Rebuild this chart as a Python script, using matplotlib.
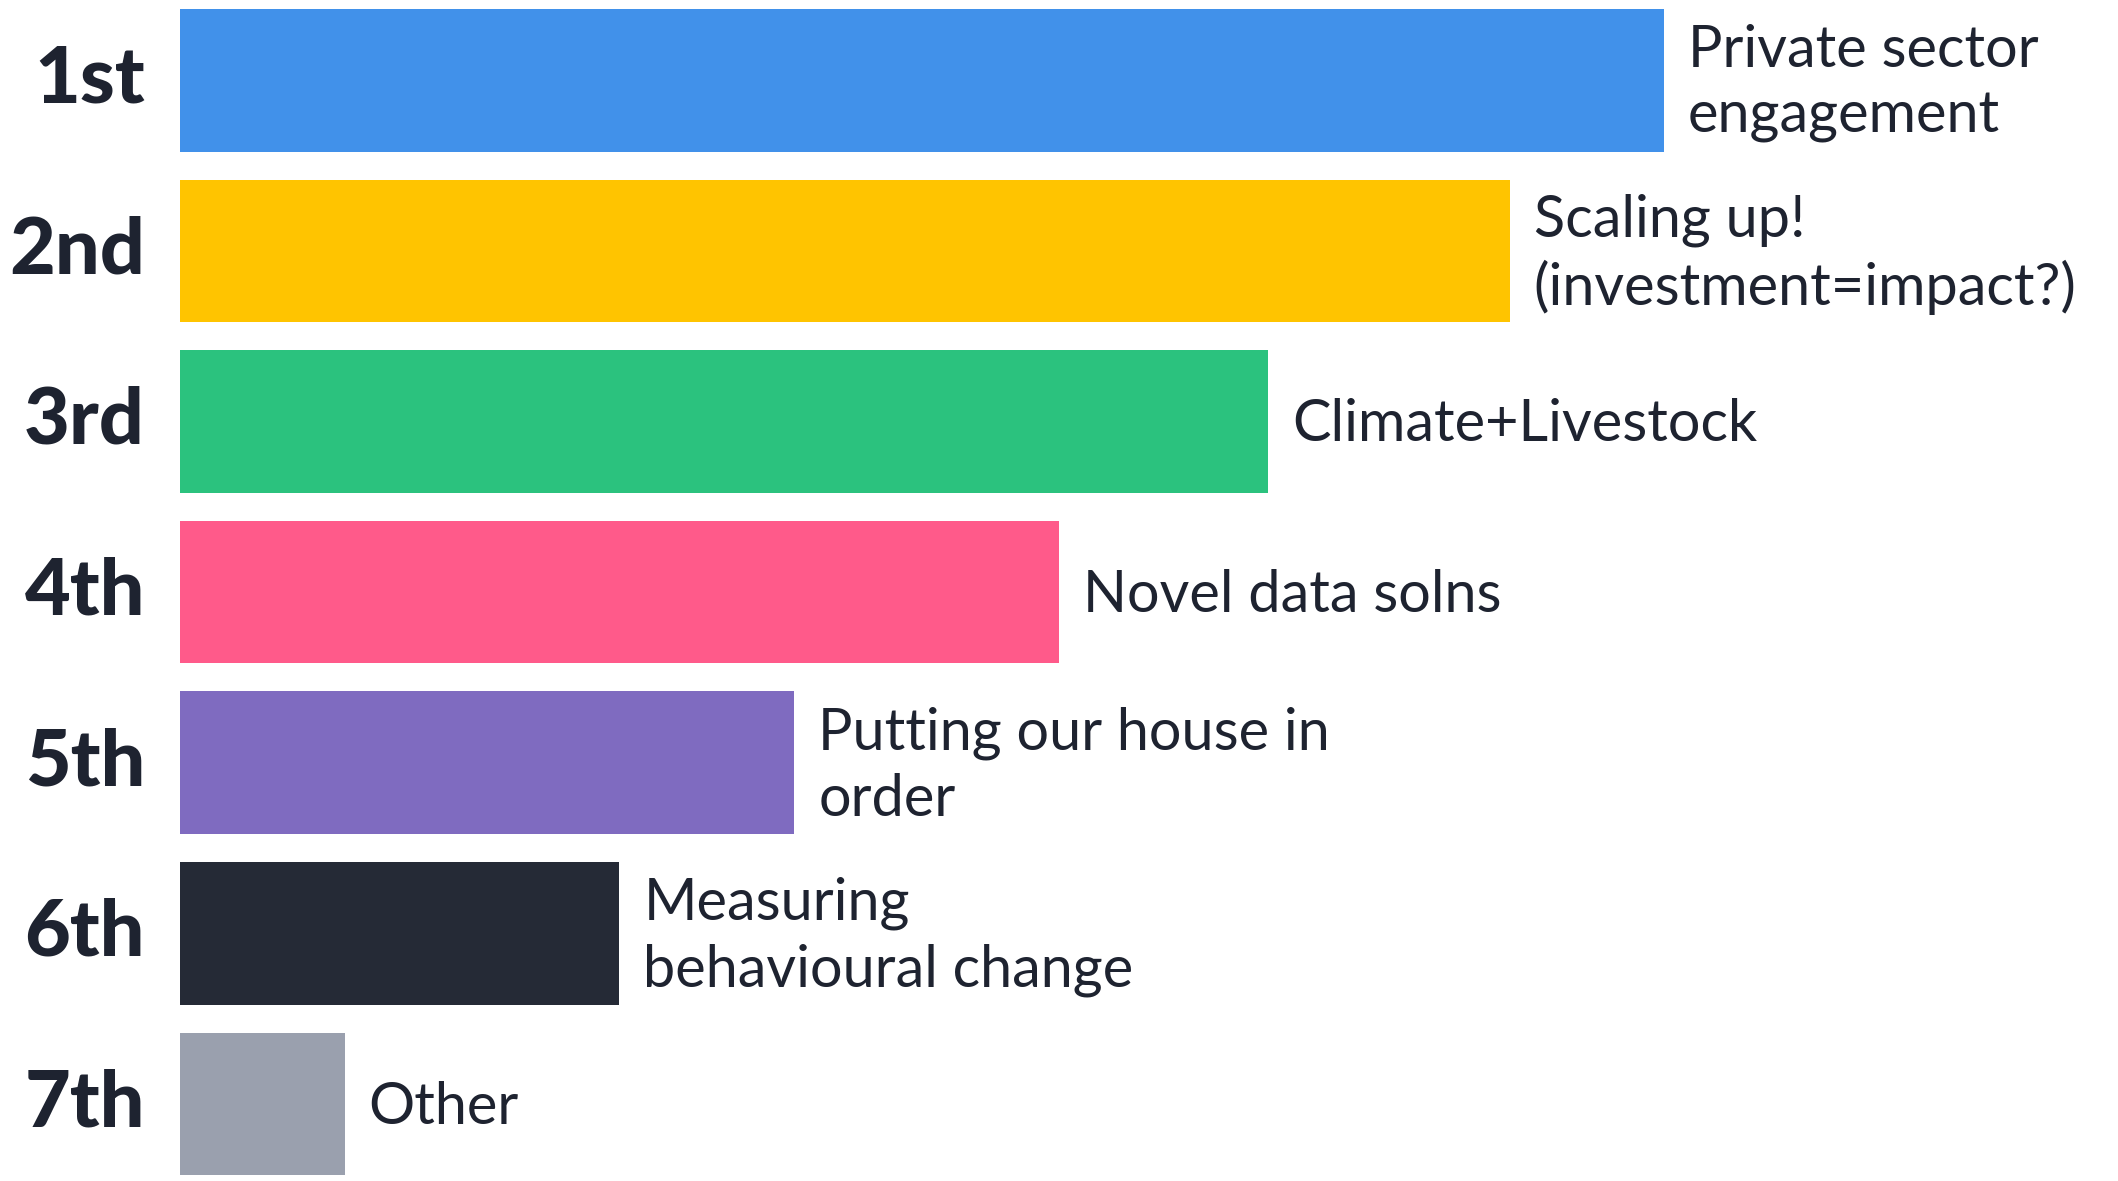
import matplotlib
matplotlib.use("Agg")
import matplotlib.pyplot as plt

ranks = ["1st", "2nd", "3rd", "4th", "5th", "6th", "7th"]
labels = ["Private sector\nengagement",
          "Scaling up!\n(investment=impact?)",
          "Climate+Livestock",
          "Novel data solns",
          "Putting our house in\norder",
          "Measuring\nbehavioural change",
          "Other"]
scores = [100, 89.6, 73.3, 59.2, 41.4, 29.6, 11.1]
colors = ["#4191EA", "#FFC400", "#2BC27E", "#FF5A8A", "#7F6BC0", "#252A36", "#9AA0AE"]

W, H = 2118, 1181
DPI = 100
fig = plt.figure(figsize=(W / DPI, H / DPI), dpi=DPI)
fig.patch.set_facecolor("white")

left_px = 180
px_per_unit = 14.84
ax = fig.add_axes([left_px / W, 0, 1 - left_px / W, 1])
ax.set_xlim(0, (W - left_px) / px_per_unit)
pitch = 170.6
top_off = 80.3 / pitch
ax.set_ylim(6 + (H - 80.3 - 6 * pitch) / pitch, -top_off)
ax.axis("off")

fam = ["Lato", "DejaVu Sans"]
txt_color = "#1E2330"
ypos = list(range(len(ranks)))
ax.barh(ypos, scores, height=0.835, color=colors, left=0)

for y, s, lab, r in zip(ypos, scores, labels, ranks):
    ax.text(s + 24 / px_per_unit, y + 0.02, lab, va="center", ha="left",
            fontsize=41.5, family=fam, color=txt_color, linespacing=1.3)
    ax.text(-35 / px_per_unit, y, r, va="center", ha="right",
            fontsize=57, family=fam, fontweight="black", color=txt_color,
            clip_on=False)

fig.savefig("out.png", dpi=DPI, facecolor="white")
